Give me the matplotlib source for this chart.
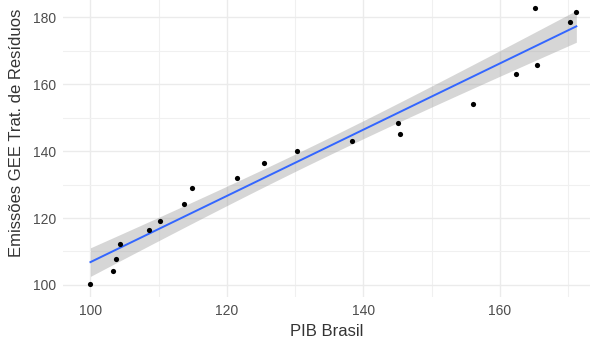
import numpy as np
import matplotlib
matplotlib.use('Agg')
import matplotlib.pyplot as plt
from matplotlib.ticker import MultipleLocator

plt.rcParams['font.family'] = ['Liberation Sans', 'DejaVu Sans']

# data
pib = [100.0, 103.3, 103.7, 104.3, 108.6, 110.2, 113.7, 114.9, 121.5, 125.4,
       130.3, 138.3, 145.0, 145.3, 156.0, 162.3, 165.2, 165.4, 170.3, 171.2]
emissoes = [100.3, 104.3, 107.9, 112.3, 116.4, 119.2, 124.1, 129.1, 132.0, 136.5,
            140.1, 143.1, 148.4, 145.2, 154.0, 163.1, 182.7, 165.7, 178.4, 181.4]
x_ticks = [100, 120, 140, 160]
y_ticks = [100, 120, 140, 160, 180]

x = np.array(pib)
y = np.array(emissoes)

# linear fit with 95% confidence band (like geom_smooth(method = "lm"))
n = len(x)
slope, intercept = np.polyfit(x, y, 1)
resid = y - (slope * x + intercept)
s = np.sqrt(np.sum(resid ** 2) / (n - 2))
t_crit = 2.101  # t(0.975, df = 18)
xs = np.linspace(x.min(), x.max(), 100)
ys = slope * xs + intercept
se = s * np.sqrt(1 / n + (xs - x.mean()) ** 2 / np.sum((x - x.mean()) ** 2))

fig = plt.figure(figsize=(5.9, 3.43), dpi=100)
ax = fig.add_axes([0.107, 0.134, 0.893, 0.866])

ax.fill_between(xs, ys - t_crit * se, ys + t_crit * se, color='#999999', alpha=0.4,
                linewidth=0, zorder=2)
ax.plot(xs, ys, color='#3366FF', linewidth=1.4, zorder=3)
ax.scatter(x, y, s=14, color='black', zorder=4, linewidths=0)

ax.set_xlim(96.0, 173.2)
ax.set_ylim(96.4, 185.1)
ax.set_xticks(x_ticks)
ax.set_yticks(y_ticks)
ax.xaxis.set_minor_locator(MultipleLocator(10))
ax.yaxis.set_minor_locator(MultipleLocator(10))

ax.grid(which='major', color='#EBEBEB', linewidth=1.0, zorder=0)
ax.grid(which='minor', color='#F0F0F0', linewidth=0.8, zorder=0)
ax.set_axisbelow(True)
for side in ax.spines.values():
    side.set_visible(False)
ax.tick_params(which='both', length=0, labelsize=10, colors='#4D4D4D', pad=5)

ax.set_xlabel('PIB Brasil', fontsize=12, color='#333333', labelpad=4)
ax.set_ylabel('Emissões GEE Trat. de Resíduos', fontsize=12, color='#333333')
ax.yaxis.set_label_coords(-0.075, 0.552)

fig.savefig('out.png', dpi=100)
